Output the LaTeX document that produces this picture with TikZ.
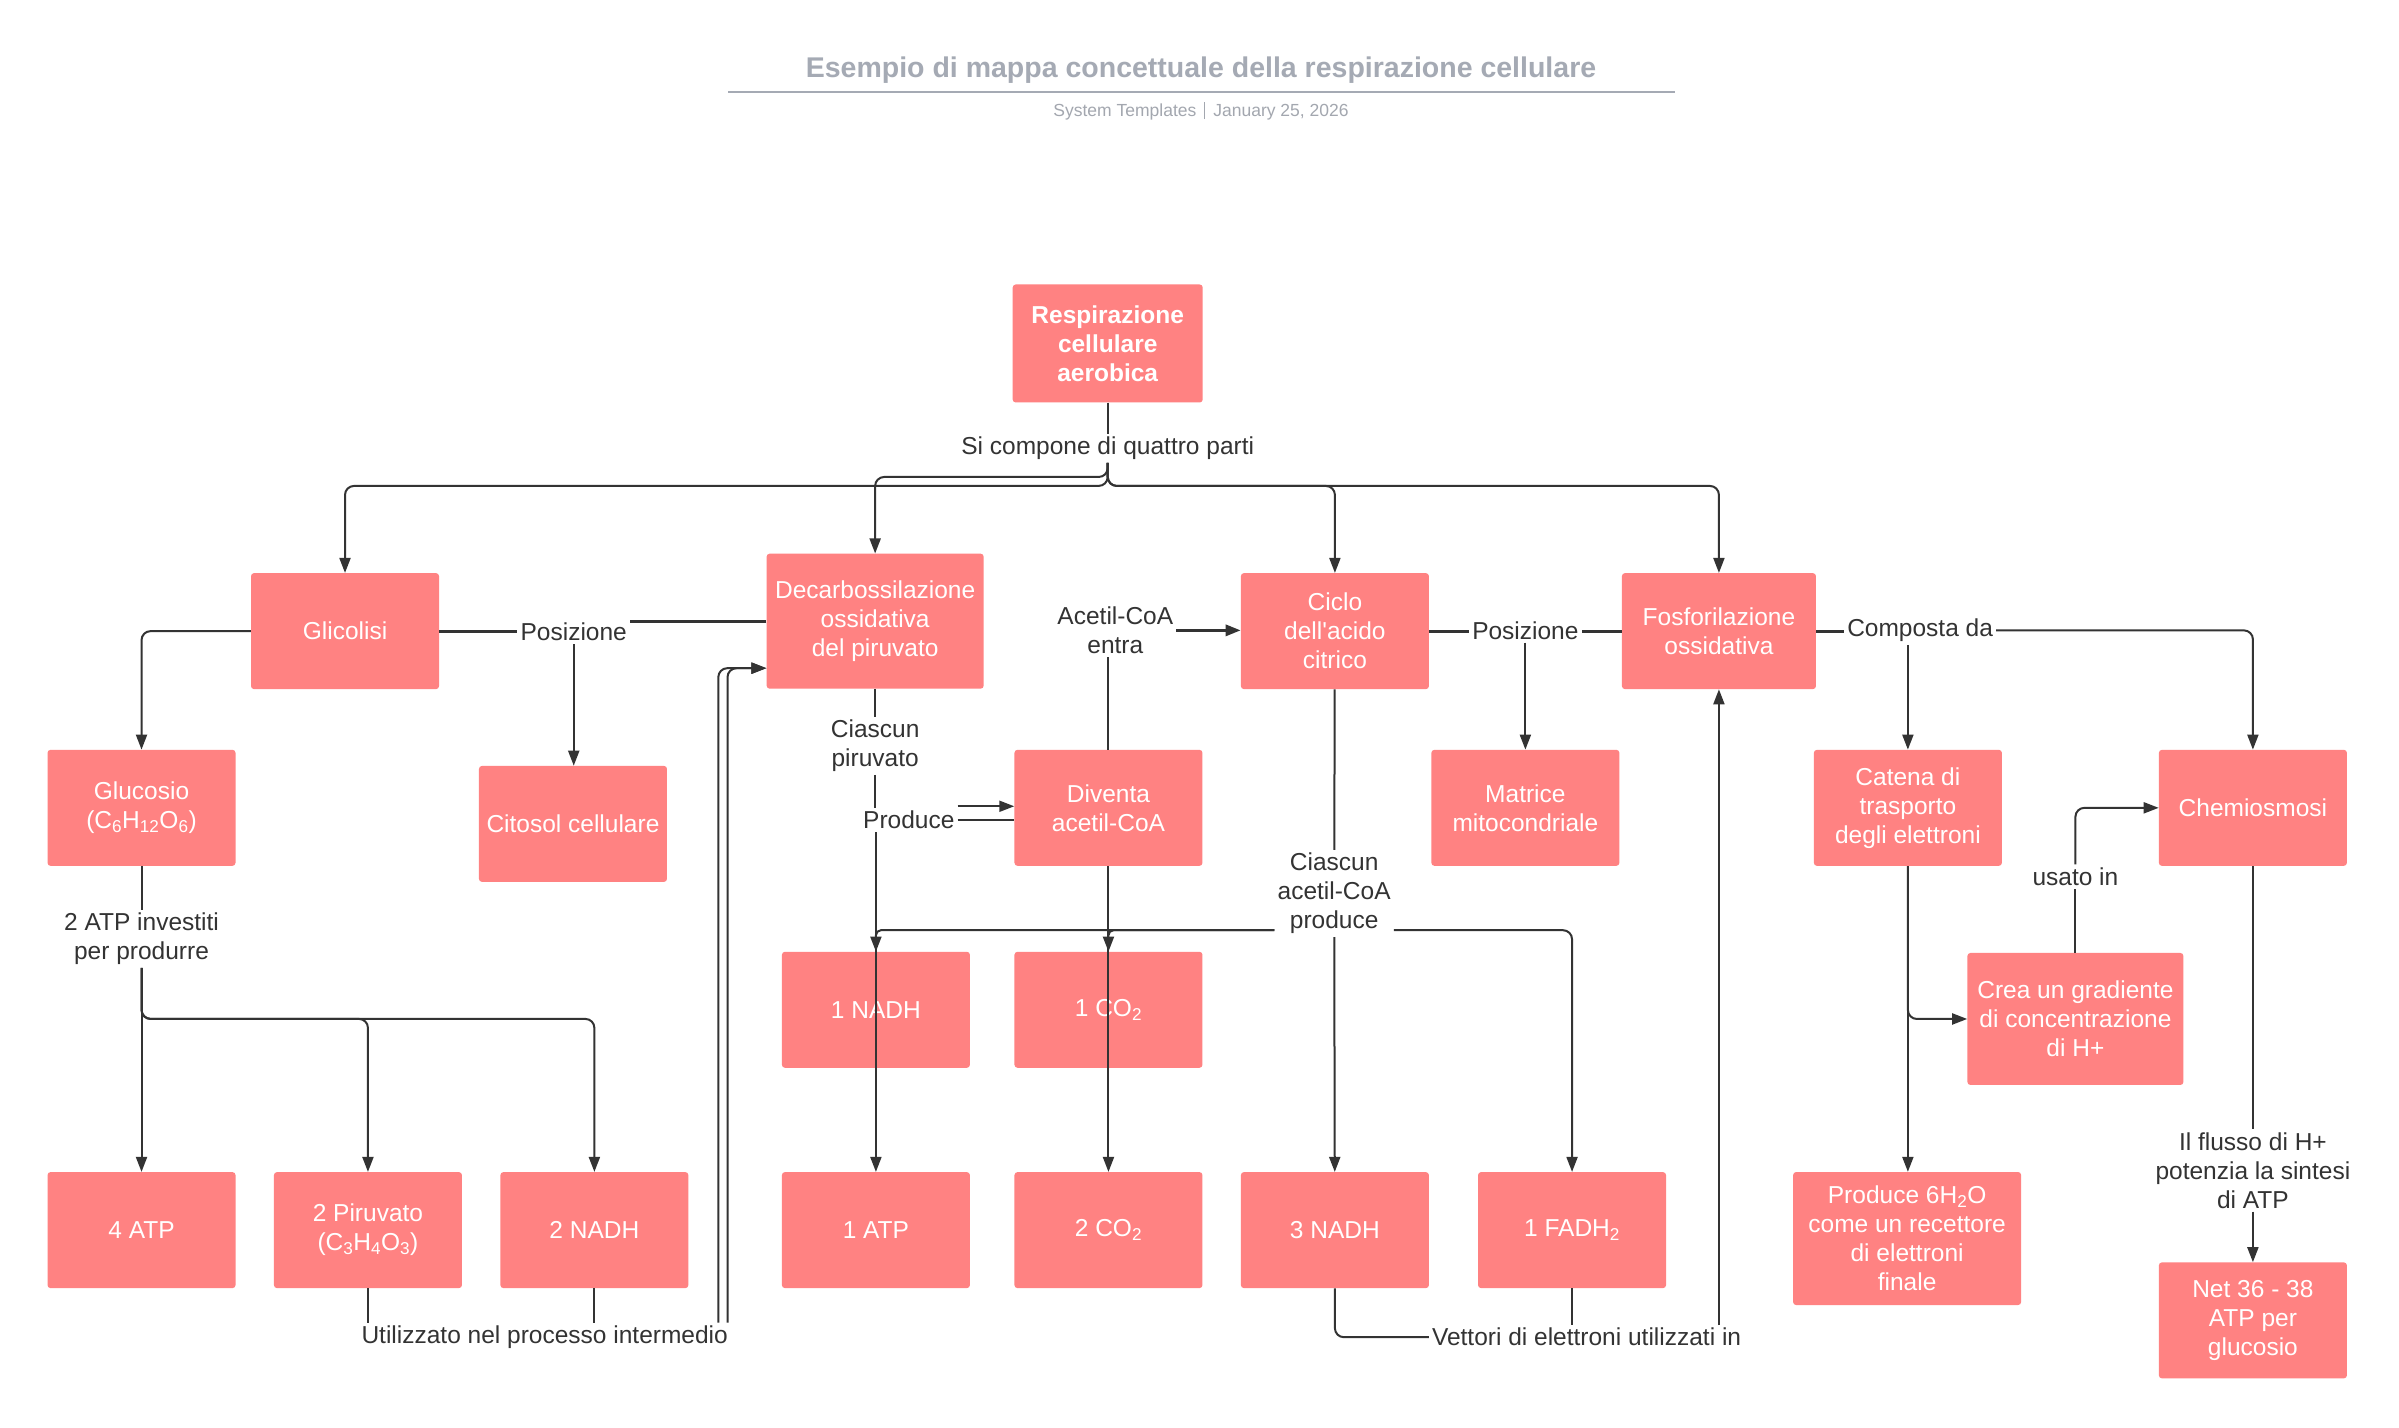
\documentclass[tikz,border=0pt]{standalone}
\usepackage{fontspec}
\setmainfont{Liberation Sans}[Ligatures=TeXOff]
\usetikzlibrary{arrows.meta}
\definecolor{boxfill}{HTML}{FF8282}
\definecolor{linkcol}{HTML}{333333}
\definecolor{titlecol}{HTML}{A5AAB4}
\definecolor{subcol}{HTML}{A3A7AF}
\tikzset{
  box/.style={rectangle, rounded corners=3pt, fill=boxfill, text=white, align=center,
    font=\fontsize{24.5}{29}\selectfont, minimum width=188pt, minimum height=116pt, inner sep=2pt},
  lab/.style={fill=white, text=linkcol, align=center, font=\fontsize{24.5}{29}\selectfont, inner sep=3pt},
  conn/.style={draw=linkcol, line width=2pt, rounded corners=9pt},
  heavy/.style={line width=3pt},
  arr/.style={conn, -{Triangle[length=15pt,width=11pt]}},
  sharp/.style={rounded corners=5pt},
}
\begin{document}
\begin{tikzpicture}[x=1.53pt,y=-1.53pt]
\fill[white] (0,0) rectangle (1568,933);
\path[use as bounding box] (0,0) rectangle (1568,933);

% title
\node[font=\bfseries\fontsize{28.5}{32}\selectfont, text=titlecol] (title) at (785,46)
  {Esempio di mappa concettuale della respirazione cellulare};
\coordinate (tl) at (476,60);
\coordinate (tr) at (1095,60);
\draw[titlecol, line width=2pt] (tl) -- (tr);
\node[font=\fontsize{17.5}{20}\selectfont, text=subcol] (sub) at (785,72.5)
  {System Templates\hspace{8pt}\textcolor{subcol}{\rule[-3pt]{1pt}{17pt}}\hspace{8pt}January 25, 2026};

% boxes
\node[box, font=\bfseries\fontsize{24.5}{29}\selectfont, minimum width=190pt, minimum height=118pt] (resp) at (724,224.5) {Respirazione\\cellulare\\aerobica};
\node[box] (glic) at (225.5,412.5) {Glicolisi};
\node[box, minimum width=217pt, minimum height=135pt] (decarb) at (572,406) {Decarbossilazione\\ossidativa\\del piruvato};
\node[box] (ciclo) at (872.5,412.5) {Ciclo\\dell'acido\\citrico};
\node[box, minimum width=194pt] (fosf) at (1123.5,412.5) {Fosforilazione\\ossidativa};
\node[box] (gluc) at (92.5,528) {Glucosio\\(C\textsubscript{6}H\textsubscript{12}O\textsubscript{6})};
\node[box] (citosol) at (374.5,538.5) {Citosol cellulare};
\node[box] (diventa) at (724.5,528) {Diventa\\acetil-CoA};
\node[box] (matrice) at (997,528) {Matrice\\mitocondriale};
\node[box] (catena) at (1247,528) {Catena di\\trasporto\\degli elettroni};
\node[box] (chemi) at (1472.5,528) {Chemiosmosi};
\node[box] (nadhA) at (572.5,660) {1 NADH};
\node[box] (coA) at (724.5,660) {1 CO\textsubscript{2}};
\node[box, minimum width=216pt, minimum height=132pt] (crea) at (1356.5,666) {Crea un gradiente\\di concentrazione\\di H+};
\node[box] (atpF) at (92.5,804) {4 ATP};
\node[box] (piru) at (240.5,804) {2 Piruvato\\(C\textsubscript{3}H\textsubscript{4}O\textsubscript{3})};
\node[box] (nadhB) at (388.5,804) {2 NADH};
\node[box] (atpA) at (572.5,804) {1 ATP};
\node[box] (coB) at (724.5,804) {2 CO\textsubscript{2}};
\node[box] (nadhC) at (872.5,804) {3 NADH};
\node[box] (fadh) at (1027.5,804) {1 FADH\textsubscript{2}};
\node[box, minimum width=228pt, minimum height=133pt] (hwater) at (1246.5,809.5) {Produce 6H\textsubscript{2}O\\come un recettore\\di elettroni\\finale};
\node[box] (net) at (1472.5,863) {Net 36 - 38\\ATP per\\glucosio};

% labels
\node[lab] (compone) at (724,293) {Si compone di quattro parti};
\node[lab] (posA) at (375,413) {Posizione};
\node[lab] (acetil) at (729,412) {Acetil-CoA\\entra};
\node[lab] (posB) at (997,412) {Posizione};
\node[lab] (composta) at (1255,412) {Composta da};
\node[lab] (ciascunp) at (572,487.5) {Ciascun\\piruvato};
\node[lab] (produce) at (594,536) {Produce};
\node[lab] (atpinv) at (92.5,613.5) {2 ATP investiti\\per produrre};
\node[lab] (ciascuna) at (872,584) {Ciascun\\acetil-CoA\\produce};
\node[lab] (usato) at (1356.5,573) {usato in};
\node[lab] (flusso) at (1472.5,765) {Il flusso di H+\\potenzia la sintesi\\di ATP};
\node[lab] (util) at (356,874) {Utilizzato nel processo intermedio};
\node[lab] (vettori) at (1037,874) {Vettori di elettroni utilizzati in};

\coordinate (uinA) at (469.5,864.5);
\coordinate (uinB) at (475.5,864.5);

% connectors: root
\draw[conn] (resp) -- (compone);
\draw[arr] (compone.south) |- ([yshift=76.5pt]decarb.north) -- (decarb.north);
\draw[arr] (compone.south) |- ([yshift=87pt]glic.north) -- (glic.north);
\draw[arr] (compone.south) |- ([yshift=87pt]ciclo.north) -- (ciclo.north);
\draw[arr] (compone.south) |- ([yshift=87pt]fosf.north) -- (fosf.north);

% glicolisi
\draw[arr] (glic.west) -| (gluc.north);
\draw[conn, heavy] (glic.east) -- (glic.east -| posA.west);
\draw[conn, heavy] (decarb.west) -- (decarb.west -| posA.east);
\draw[arr] (posA.south) -- (posA.south |- citosol.north);

% glucosio
\draw[conn] (gluc) -- (atpinv);
\draw[arr] (atpinv) -- (atpF);
\draw[arr] (atpinv.south) |- ([yshift=153pt]piru.north) -- (piru.north);
\draw[arr] (atpinv.south) |- ([yshift=153pt]nadhB.north) -- (nadhB.north);

% used in intermediate process
\draw[conn] (piru.south) -- (piru.south |- util.north);
\draw[conn] (nadhB.south) -- (nadhB.south |- util.north);
\draw[arr] (uinA) |- ([yshift=-47pt]decarb.west);
\draw[arr] (uinB) |- ([yshift=-47pt]decarb.west);

% decarbossilazione
\draw[conn] (decarb.south) -- (decarb.south |- ciascunp.north);
\draw[conn] (ciascunp.south) -- (ciascunp.south |- produce.north);
\draw[arr] ([yshift=13.8pt]produce.east) -- ([yshift=13.8pt]produce.east -| diventa.west);
\draw[conn] (produce.east) -- (produce.east -| diventa.west);
\draw[arr] (produce.south -| atpA.north) -- (atpA.north);

% diventa acetil-CoA
\draw[conn] (diventa.north) -- (diventa.north |- acetil.south);
\draw[arr, heavy] (acetil.east) -- (acetil.east -| ciclo.west);
\draw[arr] (diventa.south) -- (coB.north);

% ciclo
\draw[conn] (ciclo) -- (ciascuna);
\draw[arr] (ciascuna) -- (nadhC);
\draw[arr, sharp] ([yshift=-36.7pt]ciascuna.west) -| (coA.north);
\draw[arr, sharp] ([yshift=-36.7pt]ciascuna.west) -| (nadhA.north);
\draw[arr] ([yshift=-36.7pt]ciascuna.east) -| (fadh.north);
\draw[conn, heavy] (ciclo.east) -- (ciclo.east -| posB.west);
\draw[conn, heavy] (fosf.west) -- (fosf.west -| posB.east);
\draw[arr] (posB.south) -- (posB.south |- matrice.north);

% fosforilazione
\draw[conn, heavy] (fosf.east) -- (fosf.east -| composta.west);
\draw[arr] (composta.south -| catena.north) -- (catena.north);
\draw[arr] (composta.east) -| (chemi.north);
\draw[arr] (catena.south) -- (catena.south |- hwater.north);
\draw[arr] (catena.south) |- (crea.west);
\draw[conn] (crea.north) -- (usato.south);
\draw[arr] (usato.north) |- (chemi.west);
\draw[conn] (chemi.south) -- (flusso.north);
\draw[arr] (flusso.south) -- (net.north);

% electron carriers
\draw[conn] (nadhC.south) |- (vettori.west);
\draw[conn] (fadh.south) -- (fadh.south |- vettori.north);
\draw[arr] (vettori.north -| fosf.south) -- (fosf.south);
\end{tikzpicture}
\end{document}
